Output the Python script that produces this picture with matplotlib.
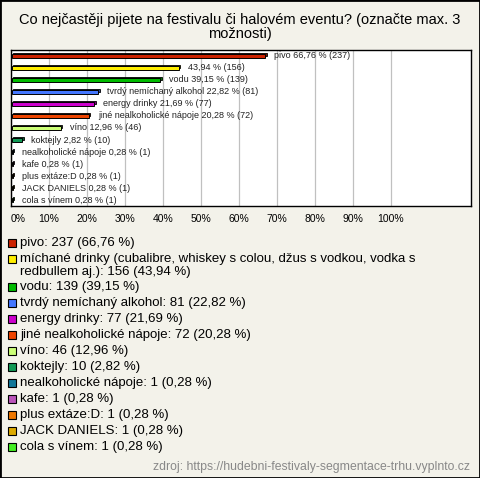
import matplotlib.pyplot as plt
from matplotlib.patches import Rectangle
from matplotlib import colors as mcolors

plt.rcParams['font.family'] = ['Liberation Sans', 'DejaVu Sans']

title = 'Co nejčastěji pijete na festivalu či halovém eventu? (označte max. 3\nmožnosti)'
names = ['pivo', 'míchané drinky (cubalibre, whiskey s colou, džus s vodkou, vodka s\nredbullem aj.)',
         'vodu', 'tvrdý nemíchaný alkohol', 'energy drinky', 'jiné nealkoholické nápoje',
         'víno', 'koktejly', 'nealkoholické nápoje', 'kafe', 'plus extáze:D', 'JACK DANIELS',
         'cola s vínem']
bar_names = ['pivo', '', 'vodu', 'tvrdý nemíchaný alkohol', 'energy drinky',
             'jiné nealkoholické nápoje', 'víno', 'koktejly', 'nealkoholické nápoje', 'kafe',
             'plus extáze:D', 'JACK DANIELS', 'cola s vínem']
counts = [237, 156, 139, 81, 77, 72, 46, 10, 1, 1, 1, 1, 1]
percents = [66.76, 43.94, 39.15, 22.82, 21.69, 20.28, 12.96, 2.82, 0.28, 0.28, 0.28, 0.28, 0.28]
bar_colors = ['#cc2200', '#ffee00', '#00bb00', '#4477ff', '#cc00cc', '#ee4400', '#ccff77',
              '#119955', '#117799', '#bb55bb', '#ee7700', '#ddaa00', '#44ee22']
source = 'zdroj: https://hudebni-festivaly-segmentace-trhu.vyplnto.cz'

W, H = 480, 478
bg = '#f3f2ea'
fig = plt.figure(figsize=(W / 100, H / 100), dpi=100, facecolor=bg)

def fx(px):
    return px / W

def fy(py):
    return 1 - py / H

fig.text(0.5, fy(27), title, ha='center', va='center', fontsize=10.5, linespacing=1.05)

# plot area
ax = fig.add_axes([fx(11), fy(206), fx(460), 156 / H])
ax.set_facecolor('white')
n = len(percents)
ys = list(range(n))
h = 0.3
dy = 0.13
dx = 0.55
for y, p, c in zip(ys, percents, bar_colors):
    dark = tuple(v * 0.6 for v in mcolors.to_rgb(c))
    ax.add_patch(Rectangle((dx, y - h / 2 - dy), p, h, facecolor=dark, edgecolor='black', lw=0.6, zorder=3))
    ax.add_patch(Rectangle((0.15, y - h / 2), p, h, facecolor=c, edgecolor='black', lw=0.7, zorder=4))
for y, nm, p, cnt in zip(ys, bar_names, percents, counts):
    lab = ('%s %s %% (%d)' % (nm, ('%.2f' % p).replace('.', ','), cnt)).strip()
    ax.annotate(lab, (p, y), xytext=(7, 0), textcoords='offset points', ha='left', va='center',
                fontsize=6.5, color='#222222', zorder=5)
ax.set_xlim(0, 121.05)
ax.set_ylim(n - 0.5, -0.5)
ax.set_yticks([])
ticks = list(range(0, 101, 10))
ax.set_xticks(ticks)
ax.set_xticklabels(['%d%%' % t for t in ticks], fontsize=7.5)
ax.tick_params(axis='x', length=0, pad=6)
ax.get_xticklabels()[0].set_ha('left')
ax.grid(axis='x', color='#c0c0c0', lw=0.9, zorder=0)
for s in ax.spines.values():
    s.set_color('black')
    s.set_linewidth(1)

# legend
ypos = 243
for nm, p, cnt, c in zip(names, percents, counts, bar_colors):
    lab = '%s: %d (%s %%)' % (nm, cnt, ('%.2f' % p).replace('.', ','))
    fig.patches.append(Rectangle((fx(8), fy(ypos + 4)), fx(8), 8 / H, facecolor=c,
                                 edgecolor='black', lw=0.8, transform=fig.transFigure))
    fig.text(fx(20), fy(ypos - 6), lab, ha='left', va='top', fontsize=9.5, linespacing=1.1)
    ypos += 16 + 12 * lab.count('\n')

fig.text(fx(470), fy(467), source, ha='right', va='center', fontsize=8.8, color='#888888')

fig.patches.append(Rectangle((0, 0), 1, 1, facecolor='none', edgecolor='black', lw=2,
                             transform=fig.transFigure))

fig.savefig('out.png', dpi=100, facecolor=bg)
